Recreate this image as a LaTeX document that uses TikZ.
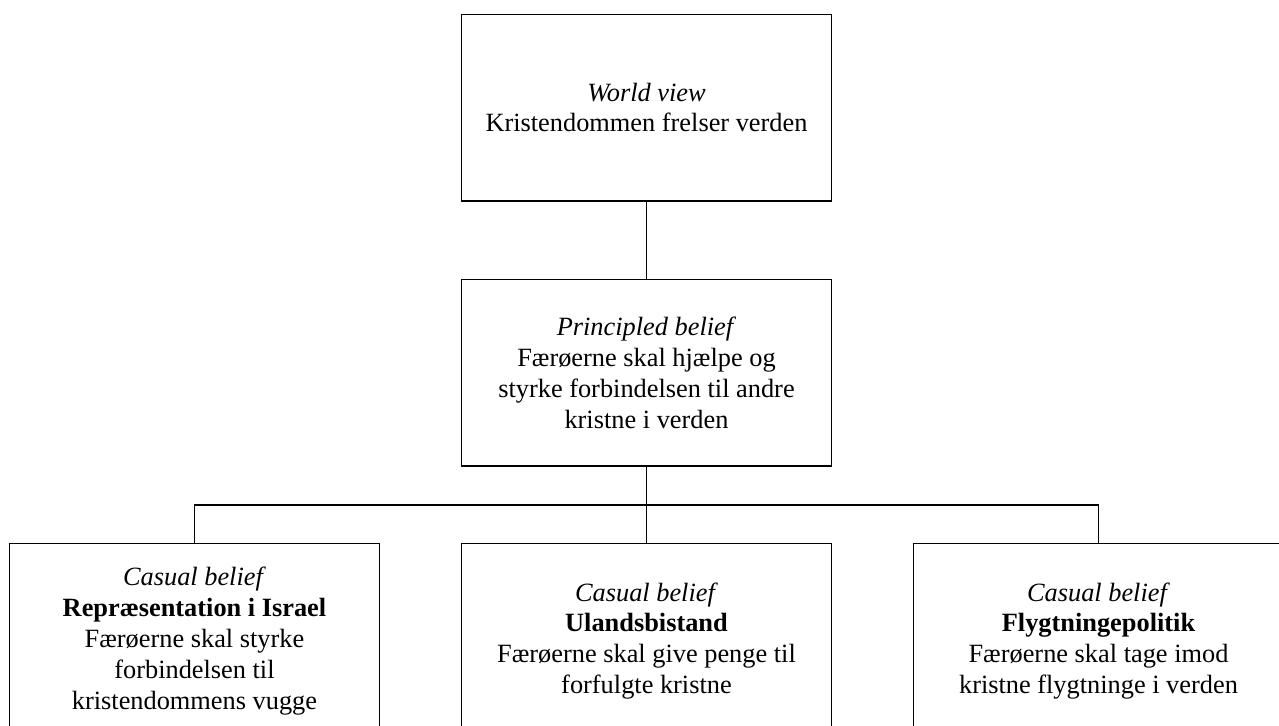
\documentclass[tikz,border=0pt]{standalone}
\usepackage{fontspec}
\setmainfont{Liberation Serif}
\usepackage{tikz}

\begin{document}
\begin{tikzpicture}[x=0.02cm, y=-0.02cm,
	belief/.style={shape=rectangle, draw=black, line width=0.6pt, minimum width=7.42cm,
		minimum height=3.74cm, inner sep=0pt, align=center, font=\fontsize{15}{17.6}\selectfont},
	casual/.style={belief, minimum height=3.92cm},
	link/.style={line width=0.6pt}]
	
	\useasboundingbox (0,0) rectangle (1279,725);
	
	\node[belief] (world)      at (646.5, 107.5) {\textit{World view}\\Kristendommen frelser verden};
	\node[belief] (principled) at (646.5, 372.5) {\textit{Principled belief}\\Færøerne skal hjælpe og\\styrke forbindelsen til andre\\kristne i verden};
	\node[casual] (israel)     at (194.5, 641) {\textit{Casual belief}\\\textbf{Repræsentation i Israel}\\Færøerne skal styrke\\forbindelsen til\\kristendommens vugge};
	\node[casual] (uland)      at (646.5, 641) {\textit{Casual belief}\\\textbf{Ulandsbistand}\\Færøerne skal give penge til\\forfulgte kristne};
	\node[casual] (flygt)      at (1098.5, 641) {\textit{Casual belief}\\\textbf{Flygtningepolitik}\\Færøerne skal tage imod\\kristne flygtninge i verden};
	
	\coordinate (bus) at (646.5, 505);
	
	\draw[link] (world) -- (principled);
	\draw[link] (principled) -- (bus);
	\draw[link] (bus) -| (israel);
	\draw[link] (bus) -- (uland);
	\draw[link] (bus) -| (flygt);
	
\end{tikzpicture}
\end{document}
